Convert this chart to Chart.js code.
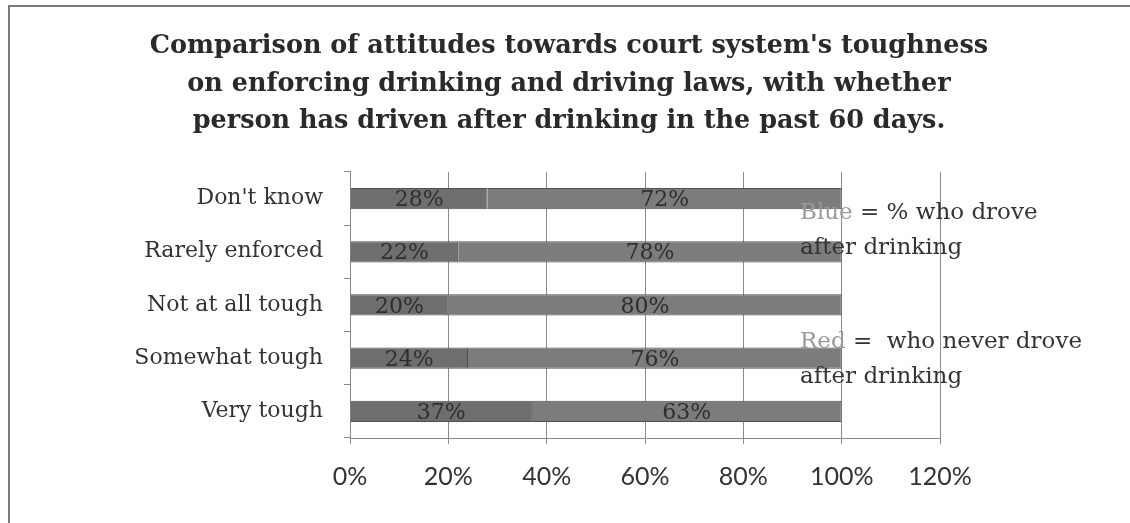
<!DOCTYPE html>
<html>
<head>
<meta charset="utf-8">
<script src="https://cdn.jsdelivr.net/npm/chart.js@4/dist/chart.umd.min.js"></script>
<style>
  body { margin: 0; background: #fff; }
  #cadre {
    position: absolute; left: 8px; top: 5px; width: 1130px; height: 530px;
    border-left: 2px solid #7a7a7a; border-top: 2px solid #7a7a7a;
  }
  #attitudes { position: absolute; left: 0; top: 0; }
</style>
</head>
<body>
<div id="cadre"></div>
<canvas id="attitudes" width="1130" height="523"></canvas>
<script>
const categories = ["Don't know", "Rarely enforced", "Not at all tough", "Somewhat tough", "Very tough"];
const droveAfter = [28, 22, 20, 24, 37];
const neverDrove = [72, 78, 80, 76, 63];
const xTicks = [0, 20, 40, 60, 80, 100, 120];
const titre = [
    "Comparison of attitudes towards court system's toughness",
    "on enforcing drinking and driving laws, with whether",
    "person has driven after drinking in the past 60 days."
];

const police = "'DejaVu Serif', 'Liberation Serif', serif";
const policeAxe = "Lato, 'Open Sans', sans-serif";

// pourcentage écrit au milieu de chaque segment
const etiquettes = {
    id: 'etiquettes',
    afterDatasetsDraw(chart) {
        const ctx = chart.ctx;
        ctx.save();
        ctx.font = "22px " + police;
        ctx.fillStyle = "#2e2e2e";
        ctx.textAlign = "center";
        ctx.textBaseline = "middle";
        chart.data.datasets.forEach((ds, i) => {
            chart.getDatasetMeta(i).data.forEach((bar, j) => {
                const milieu = (bar.x + bar.base) / 2;
                ctx.fillText(ds.data[j] + "%", milieu, bar.y + 2);
            });
        });
        ctx.restore();
    }
};

// texte explicatif à droite des barres
const notes = {
    id: 'notes',
    afterDatasetsDraw(chart) {
        const ctx = chart.ctx;
        ctx.save();
        ctx.font = "23px " + police;
        ctx.textBaseline = "middle";
        ctx.textAlign = "left";
        const ecrire = (mot, reste, x, y) => {
            ctx.fillStyle = "#9a9a9a";
            ctx.fillText(mot, x, y);
            ctx.fillStyle = "#333";
            ctx.fillText(reste, x + ctx.measureText(mot).width, y);
        };
        ecrire("Blue", " = % who drove", 800, 213);
        ecrire("", "after drinking", 800, 248);
        ecrire("Red", " =  who never drove", 800, 342);
        ecrire("", "after drinking", 800, 377);
        ctx.restore();
    }
};

new Chart(document.getElementById('attitudes'), {
    type: 'bar',
    data: {
        labels: categories,
        datasets: [
            {
                label: 'Blue',
                data: droveAfter,
                backgroundColor: '#6e6e6e',
                borderColor: '#505050',
                borderWidth: 1,
                barPercentage: 0.4,
                categoryPercentage: 1
            },
            {
                label: 'Red',
                data: neverDrove,
                backgroundColor: '#7c7c7c',
                borderColor: '#505050',
                borderWidth: 1,
                barPercentage: 0.4,
                categoryPercentage: 1
            }
        ]
    },
    options: {
        indexAxis: 'y',
        responsive: false,
        animation: false,
        devicePixelRatio: 1,
        layout: { padding: { left: 8, right: 0, top: 8, bottom: 13 } },
        plugins: {
            legend: { display: false },
            tooltip: { enabled: false },
            title: {
                display: true,
                text: titre,
                color: '#2a2a2a',
                font: { family: police, size: 25.5, weight: 'bold', lineHeight: 1.47 },
                padding: { top: 20, bottom: 31.5 }
            }
        },
        scales: {
            x: {
                stacked: true,
                min: 0,
                max: 120,
                afterBuildTicks: (s) => { s.ticks = xTicks.map(v => ({ value: v })); },
                ticks: {
                    callback: (v) => v + '%',
                    color: '#333',
                    font: { family: policeAxe, size: 25 },
                    padding: 18
                },
                grid: { color: '#8a8a8a', tickLength: 6, tickColor: '#8a8a8a' },
                border: { color: '#8a8a8a' }
            },
            y: {
                stacked: true,
                afterFit: (s) => { s.width = 342; },
                ticks: {
                    color: '#333',
                    font: { family: police, size: 22 },
                    padding: 21
                },
                grid: { drawOnChartArea: false, tickLength: 6, tickColor: '#8a8a8a' },
                border: { color: '#8a8a8a' }
            },
            // place libre à droite pour le texte explicatif
            marge: {
                axis: 'y',
                type: 'category',
                position: 'right',
                afterFit: (s) => { s.width = 190; },
                ticks: { display: false },
                grid: { display: false },
                border: { display: false }
            }
        }
    },
    plugins: [etiquettes, notes]
});
</script>
</body>
</html>
